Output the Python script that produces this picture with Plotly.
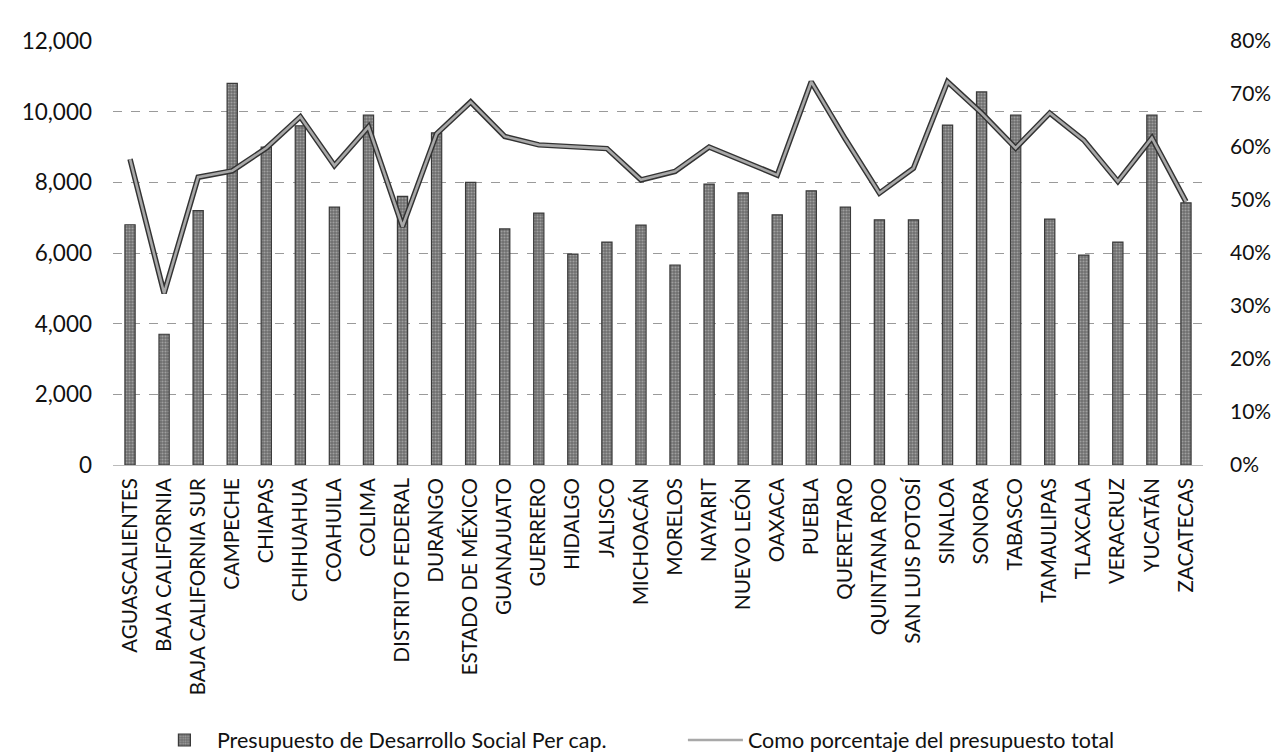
import plotly.graph_objects as go

estados = ["AGUASCALIENTES", "BAJA CALIFORNIA", "BAJA CALIFORNIA SUR", "CAMPECHE", "CHIAPAS",
           "CHIHUAHUA", "COAHUILA", "COLIMA", "DISTRITO FEDERAL", "DURANGO", "ESTADO DE MÉXICO",
           "GUANAJUATO", "GUERRERO", "HIDALGO", "JALISCO", "MICHOACÁN", "MORELOS", "NAYARIT",
           "NUEVO LEÓN", "OAXACA", "PUEBLA", "QUERETARO", "QUINTANA ROO", "SAN LUIS POTOSÍ",
           "SINALOA", "SONORA", "TABASCO", "TAMAULIPAS", "TLAXCALA", "VERACRUZ", "YUCATÁN",
           "ZACATECAS"]

presupuesto_per_cap = [6800, 3700, 7200, 10800, 9000, 9600, 7300, 9900, 7600, 9400, 8000,
                       6680, 7130, 5970, 6310, 6790, 5660, 7950, 7700, 7080, 7760, 7300,
                       6940, 6940, 9620, 10560, 9900, 6960, 5940, 6310, 9900, 7420]

porcentaje_total = [0.577, 0.324, 0.543, 0.555, 0.598, 0.657, 0.565, 0.638, 0.45, 0.625, 0.685,
                    0.62, 0.604, 0.60, 0.597, 0.538, 0.554, 0.60, 0.573, 0.547, 0.723, 0.615,
                    0.513, 0.56, 0.723, 0.664, 0.598, 0.664, 0.613, 0.535, 0.617, 0.497]

left_ticks = [0, 2000, 4000, 6000, 8000, 10000, 12000]
right_ticks = [0, 0.1, 0.2, 0.3, 0.4, 0.5, 0.6, 0.7, 0.8]

FONT = "Lato"

fig = go.Figure()
fig.add_trace(go.Bar(
    x=estados, y=presupuesto_per_cap, name="Presupuesto de Desarrollo Social Per cap.",
    width=0.3,
    marker=dict(color="#8c8c8c", line=dict(color="#3a3a3a", width=1.2),
                pattern=dict(shape=".", fgcolor="#d0d0d0", bgcolor="#6e6e6e", size=3, solidity=0.4)),
    yaxis="y",
))
fig.add_trace(go.Scatter(
    x=estados, y=porcentaje_total, mode="lines", yaxis="y2",
    line=dict(color="#333333", width=5.5), showlegend=False, hoverinfo="skip",
))
fig.add_trace(go.Scatter(
    x=estados, y=porcentaje_total, mode="lines", yaxis="y2",
    name="Como porcentaje del presupuesto total",
    line=dict(color="#a8a8a8", width=2.6),
))

fig.update_layout(
    width=1271, height=746,
    paper_bgcolor="white", plot_bgcolor="white",
    margin=dict(l=105, r=76, t=33, b=289, autoexpand=False),
    font=dict(family=FONT, color="#111111", size=20),
    bargap=0.7,
    xaxis=dict(tickangle=-90, tickfont=dict(size=20.5, family=FONT), showgrid=False,
               showline=False, ticks="", range=[-0.5, 31.5], ticklabelstandoff=8,
               automargin=False),
    yaxis=dict(range=[0, 12000], tickvals=left_ticks, tickformat=",d",
               tickfont=dict(size=22.5, family=FONT), showgrid=True, gridcolor="#9a9a9a",
               griddash="dash", gridwidth=1, zeroline=True, zerolinecolor="#bbbbbb",
               zerolinewidth=1, showline=False, ticks="", ticklabelstandoff=20,
               automargin=False),
    yaxis2=dict(range=[0, 0.8], tickvals=right_ticks, tickformat=".0%", overlaying="y",
                side="right", showgrid=False, zeroline=False, showline=False,
                tickfont=dict(size=21, family=FONT), ticks="", ticklabelstandoff=26,
                automargin=False),
    legend=dict(orientation="h", x=0.0357, y=-0.6486, xanchor="left", yanchor="middle",
                font=dict(size=21.5, family=FONT), entrywidth=461, entrywidthmode="pixels",
                itemwidth=55, traceorder="normal"),
    showlegend=True,
)

fig.write_html("out.html")
